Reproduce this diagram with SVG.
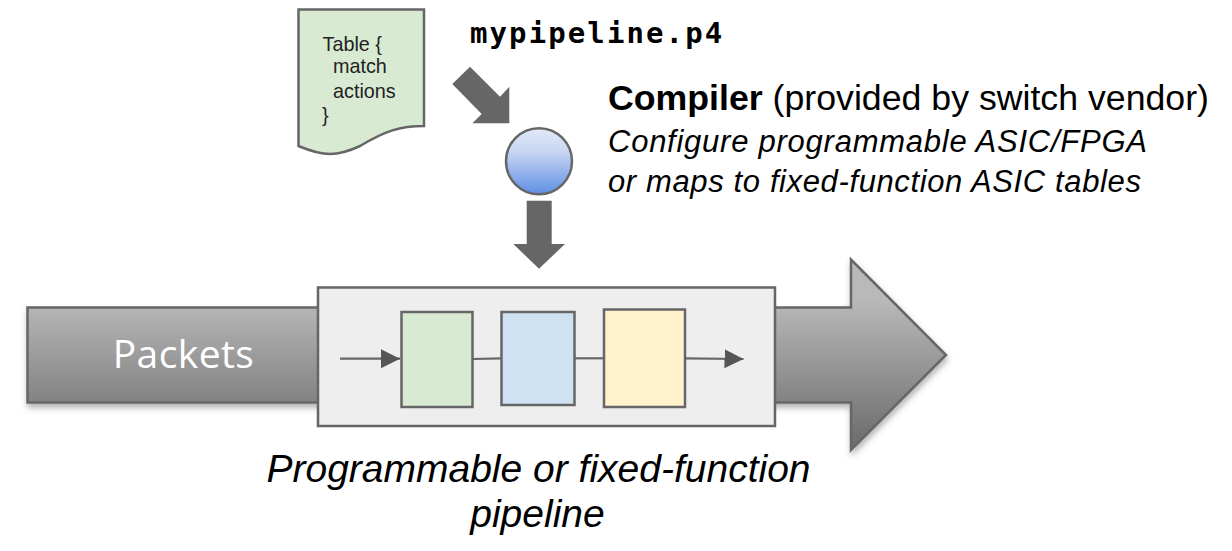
<svg xmlns="http://www.w3.org/2000/svg" width="1232" height="551" viewBox="0 0 1232 551">
<style>
text{font-family:"Liberation Sans",Arial,sans-serif;fill:#000}
.doc{font-size:19.800px;fill:#222}
.s{stroke:#666;stroke-width:2.5;stroke-linejoin:miter}
.block{stroke:#666;stroke-width:2.5}
.fat{fill:#666;stroke:none}
.line{fill:none;stroke:#666;stroke-width:2.2}
.it{font-style:italic}
</style>
<defs>
<linearGradient id="g" gradientUnits="userSpaceOnUse" x1="0" y1="300" x2="0" y2="445"><stop offset="0" stop-color="#b9b9b9"/><stop offset="1" stop-color="#6c6c6c"/></linearGradient>
<linearGradient id="c" x1="0" y1="0" x2="0" y2="1"><stop offset="0" stop-color="#e2eafa"/><stop offset="0.35" stop-color="#c8d6f2"/><stop offset="1" stop-color="#5f8fe6"/></linearGradient>
<filter id="sh" x="-5%" y="-5%" width="110%" height="115%"><feDropShadow dx="1" dy="4" stdDeviation="3" flood-color="#000" flood-opacity="0.3"/></filter>
<marker id="ah" markerUnits="userSpaceOnUse" markerWidth="20" markerHeight="20" refX="19" refY="10" orient="auto"><path d="M0,0.5 L19,10 L0,19.5Z" fill="#555"/></marker>
</defs>
<g id="big-arrow">
<path class="s" filter="url(#sh)" fill="url(#g)" d="M27.500,307.500 H851 V259.500 L946,355 L851,450 V402.500 H27.500Z"/>
<text x="183.500" y="368" text-anchor="middle" style="font-family:'Open Sans','Noto Sans',sans-serif;font-size:39px;letter-spacing:0.4px;fill:#fff">Packets</text>
</g>
<g id="doc">
<path class="s" fill="#d9ead3" d="M298.500,9.500 H424 V126 C400,126 385,131 360,146 C345,153 336,154 330,154 C318,154 308,150 298.500,146Z"/>
<text class="doc" x="322.500" y="51">Table {</text>
<text class="doc" x="333" y="73">match</text>
<text class="doc" x="333" y="98">actions</text>
<text class="doc" x="322" y="122">}</text>
</g>
<text id="filename" x="470" y="43" style="font-family:'DejaVu Sans Mono',monospace;font-weight:700;font-size:29px;letter-spacing:2.100px">mypipeline.p4</text>
<g id="arrow-in"><path class="fat" d="M452.300,84 L470,66.700 L500,96.700 L509.300,86.700 V123.300 H472.300 L481.700,114Z"/></g>
<g id="compiler"><circle cx="539" cy="161.300" r="33" fill="url(#c)" stroke="#666" stroke-width="2.5"/></g>
<g id="arrow-out"><path class="fat" d="M526.700,200.700 H551.700 V244 H565 L539,268.700 L513.300,244 H526.700Z"/></g>
<g id="compiler-text">
<text x="608" y="110" style="font-size:35.700px"><tspan font-weight="700">Compiler</tspan> (provided by switch vendor)</text>
<text class="it" x="608" y="152" style="font-size:31px;letter-spacing:0.750px">Configure programmable ASIC/FPGA</text>
<text class="it" x="608" y="192" style="font-size:31px;letter-spacing:0.620px">or maps to fixed-function ASIC tables</text>
</g>
<g id="pipeline"><rect x="318" y="287.500" width="457" height="138.500" fill="#eeeeee" class="block"/></g>
<g id="connectors">
<path class="line" marker-end="url(#ah)" d="M340,358.700 H400"/>
<path class="line" d="M473,359 L501,358.300"/>
<path class="line" d="M575,358.300 H604"/>
<path class="line" marker-end="url(#ah)" d="M685,358.300 L743.500,359"/>
</g>
<g id="stage-1"><rect x="401.500" y="312" width="71" height="95" fill="#d9ead3" class="block"/></g>
<g id="stage-2"><rect x="501.500" y="312" width="73" height="93" fill="#cfe2f3" class="block"/></g>
<g id="stage-3"><rect x="604" y="309.500" width="81" height="97.500" fill="#fff2cc" class="block"/></g>
<g id="caption">
<text class="it" x="538.500" y="482" text-anchor="middle" style="font-size:39px">Programmable or fixed-function</text>
<text class="it" x="537.500" y="527" text-anchor="middle" style="font-size:39px">pipeline</text>
</g>
</svg>
